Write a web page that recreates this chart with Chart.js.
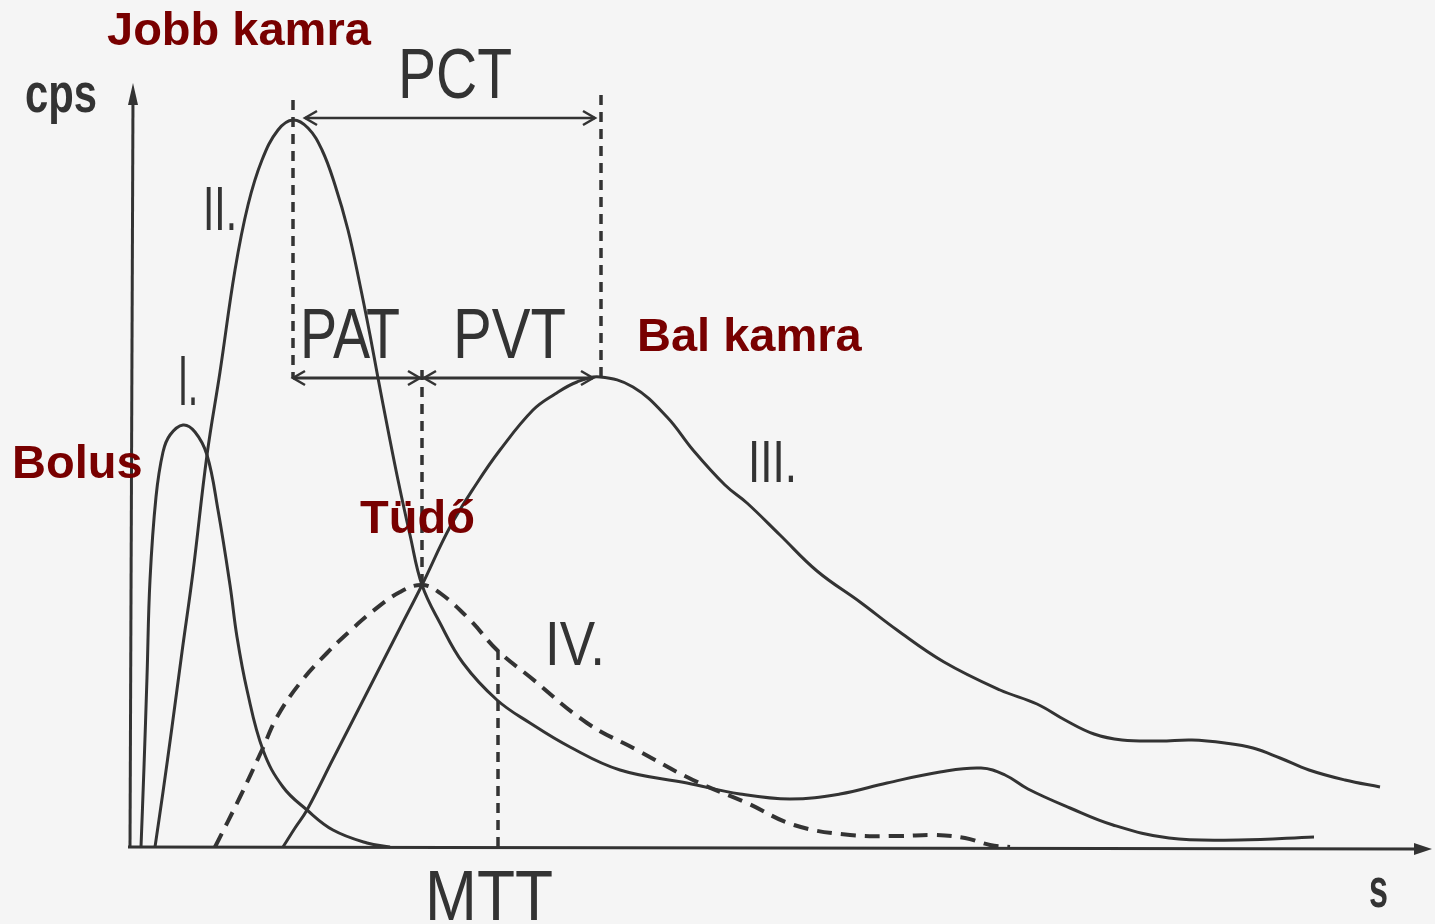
<!DOCTYPE html>
<html><head><meta charset="utf-8">
<script src="https://cdn.jsdelivr.net/npm/chart.js@4.4.1/dist/chart.umd.min.js"></script>
<style>html,body{margin:0;padding:0;background:#f5f5f5;}canvas{display:block;}</style>
</head><body>
<canvas id="c" width="1435" height="924"></canvas>
<script>
// Curve I (bolus)
const curveIx = [1.1,1.4,1.7,2.0,2.6,3.3,4.0,5.3,6.5,7.7,8.8,10.0,10.7,11.7,13.3,15.3,17.7,20.3,23.7,26.0];
const curveIy = [0,8.0,17.0,26.7,35.0,39.5,41.2,42.2,41.5,39.2,33.7,26.2,21.0,15.7,9.7,6.0,3.7,1.7,0.4,0];
// Curve II (right ventricle)
const curveIIx = [2.5,3.3,4.2,5.2,6.3,7.7,9.0,10.5,11.8,13.2,14.8,16.3,17.8,19.2,20.5,21.8,23.0,24.0,24.8,25.8,26.8,28.0,29.2,31.0,33.3,36.7,40.0,44.0,49.0,55.7,61.0,66.0,71.0,75.7,81.0,85.1,87.5,89.8,94.0,98.3,103.9,110.9,118.4];
const curveIIy = [0,5.5,12.0,19.5,27.5,39.2,47.5,57.7,64.2,68.7,71.7,72.7,71.9,69.7,66.2,61.7,56.2,51.2,46.9,41.7,36.7,31.2,26.2,22.4,18.4,14.7,12.4,10.0,7.7,6.4,5.3,4.8,5.3,6.4,7.5,7.9,7.2,5.8,3.9,2.2,0.9,0.7,1.0];
// Curve III (left ventricle)
const curveIIIx = [15.3,16.5,17.7,20.3,22.3,24.7,27.0,29.2,32.0,34.7,37.0,40.3,42.5,44.7,47.0,50.3,53.7,56.3,59.5,61.7,65.0,68.7,73.0,76.7,81.4,87.0,90.7,93.5,96.4,99.2,103.0,106.2,109.5,112.3,115.0,117.9,121.5,125.0];
const curveIIIy = [0,1.9,3.7,8.8,12.7,17.4,21.9,26.2,32.0,36.4,39.7,43.7,45.3,46.5,47.0,46.0,43.0,39.7,36.2,34.4,31.2,27.6,24.5,21.7,18.5,15.7,14.3,12.7,11.3,10.7,10.6,10.7,10.4,9.9,8.9,7.7,6.7,6.0];
// Curve IV (lung, dashed)
const curveIVx = [8.5,11.0,13.2,14.7,17.0,19.7,22.0,24.3,27.0,29.2,31.0,34.0,36.7,40.0,45.7,50.7,56.3,61.7,66.4,72.0,77.0,80.4,83.5,86.0,88.0];
const curveIVy = [0,5.0,9.7,13.0,16.4,19.4,21.6,23.6,25.5,26.2,25.4,22.7,19.7,17.0,12.4,9.7,6.7,4.4,2.2,1.2,1.1,1.2,0.9,0.2,0];

// Time markers (x) and levels (y)
const tRV = 16.3, tCross = 29.2, tLV = 47.1, tMTT = 36.8;
const yPCT = 72.9, yPAT = 46.9;
const guideLines = [ // [x, yFrom, yTo]
  [tRV, 74.7, yPAT], [tLV, 75.2, yPAT], [tCross, 47.7, 26.2], [tMTT, 19.7, 0]
];
const xMax = 130, yMax = 76.2;

const toPts = (xs, ys) => xs.map((x, i) => ({x, y: ys[i]}));
const INK = '#333333';
const RED = '#780000';

const mk = (xs, ys, dash, w) => ({
  data: toPts(xs, ys), showLine: true, borderColor: INK, borderWidth: w || 3,
  pointRadius: 0, tension: 0.4, borderDash: dash || [],
  clip: false, fill: false
});

function textFit(ctx, str, left, baseline, size, width, weight, color) {
  ctx.save();
  ctx.font = (weight || '400') + ' ' + size + 'px "Liberation Sans", Arial, sans-serif';
  const w = ctx.measureText(str).width;
  ctx.translate(left, baseline);
  ctx.scale(width / w, 1);
  ctx.fillStyle = color || INK;
  ctx.textBaseline = 'alphabetic';
  ctx.fillText(str, 0, 0);
  ctx.restore();
}
function head(ctx, x, y, dir, len, half) {
  ctx.beginPath();
  if (dir === 'r') { ctx.moveTo(x, y); ctx.lineTo(x - len, y - half); ctx.lineTo(x - len, y + half); }
  if (dir === 'l') { ctx.moveTo(x, y); ctx.lineTo(x + len, y - half); ctx.lineTo(x + len, y + half); }
  if (dir === 'u') { ctx.moveTo(x, y); ctx.lineTo(x - half, y + len); ctx.lineTo(x + half, y + len); }
  ctx.closePath(); ctx.fill();
}
function openHead(ctx, x, y, dir) {
  const s = dir === 'r' ? -1 : 1;
  ctx.beginPath();
  ctx.moveTo(x + s * 12, y - 7); ctx.lineTo(x, y); ctx.lineTo(x + s * 12, y + 7);
  ctx.stroke();
}

const deco = {
  id: 'deco',
  beforeDatasetsDraw(chart) {
    const {ctx, scales: {x, y}} = chart;
    ctx.save();
    ctx.strokeStyle = INK; ctx.fillStyle = INK; ctx.lineWidth = 3; ctx.lineCap = 'butt';
    const x0 = x.getPixelForValue(0), y0 = y.getPixelForValue(0);
    ctx.beginPath(); ctx.moveTo(x0, y0); ctx.lineTo(x0 + 3, y.getPixelForValue(yMax) + 10); ctx.stroke();
    head(ctx, x0 + 3, y.getPixelForValue(yMax) - 2, 'u', 22, 5);
    ctx.beginPath(); ctx.moveTo(x0 - 2, y0); ctx.lineTo(x.getPixelForValue(xMax) - 12, y0 + 2); ctx.stroke();
    head(ctx, x.getPixelForValue(xMax) + 2, y0 + 2, 'r', 18, 6);
    ctx.lineWidth = 3.5; ctx.setLineDash([10, 7]);
    guideLines.forEach(([gx, a, b]) => {
      ctx.beginPath(); ctx.moveTo(x.getPixelForValue(gx), y.getPixelForValue(a));
      ctx.lineTo(x.getPixelForValue(gx), y.getPixelForValue(b)); ctx.stroke();
    });
    ctx.setLineDash([]);
    ctx.lineWidth = 2.5;
    const pa = x.getPixelForValue(tRV) + 12, pb = x.getPixelForValue(tLV) - 6, py = y.getPixelForValue(yPCT);
    ctx.beginPath(); ctx.moveTo(pa, py); ctx.lineTo(pb, py); ctx.stroke();
    openHead(ctx, pa, py, 'l'); openHead(ctx, pb, py, 'r');
    const qa = x.getPixelForValue(tRV), qm = x.getPixelForValue(tCross), qb = x.getPixelForValue(tLV) - 8, qy = y.getPixelForValue(yPAT);
    ctx.lineWidth = 3;
    ctx.beginPath(); ctx.moveTo(qa, qy); ctx.lineTo(qb, qy); ctx.stroke();
    ctx.lineWidth = 2.5;
    openHead(ctx, qa, qy, 'l'); openHead(ctx, qm - 2, qy, 'r'); openHead(ctx, qm + 2, qy, 'l'); openHead(ctx, qb, qy, 'r');
    ctx.restore();
  },
  afterDatasetsDraw(chart) {
    const {ctx} = chart;
    textFit(ctx, 'PCT', 398, 98, 70, 114);
    textFit(ctx, 'PAT', 300, 358, 70, 100);
    textFit(ctx, 'PVT', 453, 358, 70, 113);
    textFit(ctx, 'MTT', 425, 920, 70, 128);
    textFit(ctx, 'I.', 178, 405, 70, 20);
    textFit(ctx, 'II.', 203, 230, 63, 34);
    textFit(ctx, 'III.', 748, 482, 59, 49);
    textFit(ctx, 'IV.', 545, 665, 63, 60);
    textFit(ctx, 'cps', 25, 112, 56, 72, '700');
    textFit(ctx, 's', 1369, 907, 56, 19, '700');
    ctx.save();
    ctx.fillStyle = RED;
    ctx.font = '700 47px "Liberation Sans", Arial, sans-serif';
    ctx.textBaseline = 'alphabetic';
    ctx.fillText('Jobb kamra', 107, 45);
    ctx.fillText('Bal kamra', 637, 351);
    ctx.fillText('Bolus', 12, 478);
    ctx.fillText('Tüdő', 360, 533);
    ctx.restore();
  }
};

new Chart(document.getElementById('c'), {
  type: 'scatter',
  data: { datasets: [
    mk(curveIx, curveIy), mk(curveIIx, curveIIy), mk(curveIIIx, curveIIIy), mk(curveIVx, curveIVy, [15, 9], 4)
  ]},
  options: {
    responsive: false, animation: false, events: [],
    layout: { padding: { left: 130, right: 5, top: 85, bottom: 77 } },
    plugins: { legend: { display: false }, tooltip: { enabled: false } },
    scales: {
      x: { type: 'linear', min: 0, max: xMax, display: false },
      y: { type: 'linear', min: 0, max: yMax, display: false }
    }
  },
  plugins: [deco]
});
</script>
</body></html>
